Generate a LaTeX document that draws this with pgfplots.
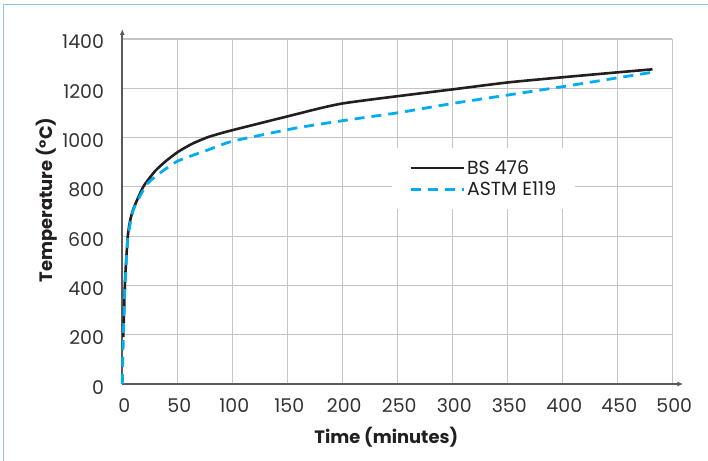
\documentclass[border=0pt]{standalone}
\usepackage{pgfplots}
\pgfplotsset{compat=1.18}
\usetikzlibrary{arrows.meta}
\usepackage{fontspec}
\setmainfont{Poppins}
\definecolor{bscol}{HTML}{231F20}
\definecolor{astmcol}{HTML}{00AEEF}
\definecolor{gridcol}{HTML}{C4C4C4}
\definecolor{axiscol}{HTML}{5A5A5A}
\definecolor{txtcol}{HTML}{333333}
\definecolor{framecol}{HTML}{8CC8EA}
\begin{document}
\begin{tikzpicture}
\useasboundingbox (-122.3bp,-77bp) rectangle ++(708bp,461bp);
\begin{axis}[
  at={(0,0)}, anchor=south west,
  scale only axis, width=550bp, height=345bp,
  xmin=0, xmax=500, ymin=0, ymax=1400,
  axis x line=bottom, axis y line=left,
  axis line style={draw=axiscol, line width=1.6bp},
  x axis line style={shorten >=-11bp, -{Latex[length=6bp,width=5bp]}},
  y axis line style={shorten >=-10bp, -{Latex[length=6bp,width=5bp]}},
  xtick={0,50,...,500}, ytick={0,200,...,1400},
  grid=major, major grid style={draw=gridcol, line width=1.2bp},
  tick style={draw=none},
  /pgf/number format/assume math mode=true,
  /pgf/number format/1000 sep={},
  tick label style={font=\fontsize{19}{22}\selectfont, text=txtcol, inner sep=0pt},
  xticklabel style={anchor=base, yshift=-26bp, xshift=2bp},
  yticklabel style={anchor=base east, xshift=-16bp, yshift=-10bp},
  xlabel={Time (minutes)},
  ylabel={Temperature (°C)},
  every axis x label/.style={at={(axis cs:240,0)}, anchor=base, yshift=-59bp,
    font=\bfseries\fontsize{18}{21}\selectfont, text=bscol},
  every axis y label/.style={at={(axis cs:0,747)}, anchor=base, rotate=90, yshift=70bp,
    font=\bfseries\fontsize{18}{21}\selectfont, text=bscol},
  legend image code/.code={\draw[#1] (0bp,0bp) -- (53bp,0bp);},
  legend cell align=left,
  legend style={draw=none, fill=white, at={(axis cs:245.2,958)}, anchor=north west,
    inner xsep=17bp, inner ysep=10bp,
    font=\fontsize{19}{22}\selectfont, text=bscol,
    row sep=2bp,
    /tikz/every even column/.append style={column sep=13bp}},
  clip=false,
]
\addplot[bscol, line width=2.6bp, smooth, tension=0.35] coordinates {
(0.9,190) (2.5,420) (5,600) (7,660) (10,710) (19,800) (30,865) (40,906) (51,943)
(64,976) (78,1002) (90,1018) (101,1031) (152,1088) (201,1139) (301,1196) (351,1224) (401,1245)
(451,1265) (482,1277)};
\addlegendentry{BS 476}
\addplot[astmcol, line width=2.8bp, dash pattern=on 10bp off 7bp, smooth, tension=0.3] coordinates {
(0,0) (1,200) (2.5,400) (5,590) (10,706) (22,809) (36,862) (51,906) (78,950)
(100,985) (157,1038) (201,1069) (251,1101) (301,1139) (351,1173) (401,1207)
(451,1243) (482,1265)};
\addlegendentry{ASTM E119}
\end{axis}
\draw[framecol, line width=1.5bp] (-119bp,-77bp) -- (-119bp,379.7bp) -- (585.7bp,379.7bp);
\end{tikzpicture}
\end{document}
